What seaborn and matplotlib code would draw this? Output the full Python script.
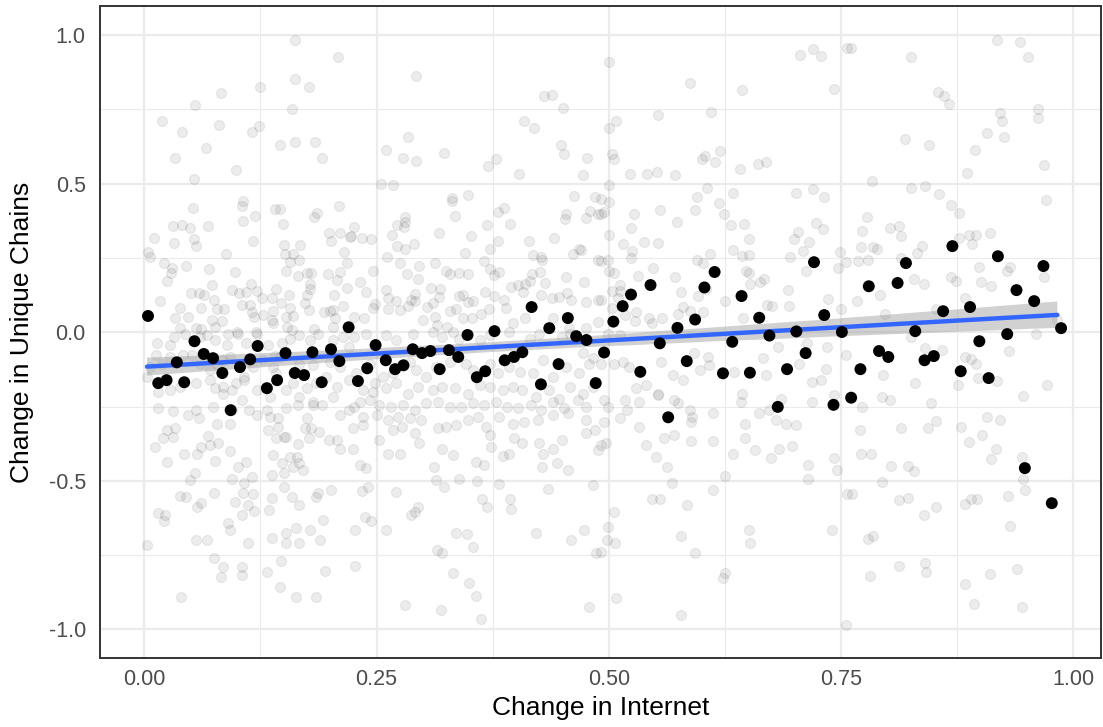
import numpy as np
import pandas as pd
import matplotlib
matplotlib.use("Agg")
import matplotlib.pyplot as plt
import seaborn as sns

# Binned means of change in unique chains along change in internet
bin_x = [0.004, 0.015, 0.024, 0.035, 0.043, 0.054, 0.064, 0.074, 0.084, 0.093,
         0.103, 0.114, 0.122, 0.132, 0.143, 0.152, 0.162, 0.172, 0.181, 0.191,
         0.201, 0.210, 0.220, 0.230, 0.240, 0.249, 0.260, 0.270, 0.279, 0.289,
         0.299, 0.308, 0.318, 0.328, 0.338, 0.348, 0.358, 0.367, 0.377, 0.388,
         0.398, 0.407, 0.417, 0.427, 0.436, 0.446, 0.456, 0.465, 0.476, 0.486,
         0.495, 0.505, 0.515, 0.524, 0.534, 0.545, 0.555, 0.564, 0.574, 0.584,
         0.593, 0.603, 0.614, 0.623, 0.633, 0.643, 0.652, 0.662, 0.673, 0.682,
         0.692, 0.702, 0.712, 0.721, 0.732, 0.742, 0.751, 0.761, 0.771, 0.780,
         0.791, 0.801, 0.811, 0.820, 0.830, 0.840, 0.850, 0.860, 0.870, 0.879,
         0.889, 0.899, 0.909, 0.919, 0.929, 0.939, 0.948, 0.958, 0.968, 0.977,
         0.987]
bin_y = [0.055, -0.171, -0.161, -0.101, -0.168, -0.030, -0.073, -0.087, -0.137, -0.262,
         -0.117, -0.091, -0.046, -0.188, -0.161, -0.070, -0.137, -0.144, -0.067, -0.168,
         -0.057, -0.097, 0.017, -0.164, -0.121, -0.043, -0.094, -0.124, -0.111, -0.057,
         -0.070, -0.063, -0.124, -0.060, -0.083, -0.009, -0.151, -0.131, 0.004, -0.094,
         -0.083, -0.067, 0.085, -0.175, 0.014, -0.107, 0.048, -0.013, -0.026, -0.171,
         -0.068, 0.036, 0.088, 0.127, -0.133, 0.159, -0.037, -0.286, 0.015, -0.097,
         0.043, 0.151, 0.203, -0.138, -0.032, 0.122, -0.136, 0.049, -0.011, -0.251,
         -0.124, 0.003, -0.070, 0.236, 0.058, -0.244, 0.001, -0.220, -0.124, 0.155,
         -0.063, -0.083, 0.166, 0.233, 0.004, -0.094, -0.080, 0.071, 0.290, -0.131,
         0.085, -0.030, -0.154, 0.256, -0.006, 0.142, -0.457, 0.105, 0.223, -0.575,
         0.014]

# Individual observations, grouped by region of the plane
cloud_left_upper = [
    (0.162, 0.985), (0.209, 0.927), (0.162, 0.852), (0.177, 0.826), (0.125, 0.824),
    (0.083, 0.804), (0.055, 0.766), (0.159, 0.753), (0.019, 0.711), (0.041, 0.673),
    (0.080, 0.699), (0.116, 0.675), (0.123, 0.693), (0.066, 0.619), (0.033, 0.588),
    (0.146, 0.631), (0.162, 0.639), (0.184, 0.639), (0.191, 0.588), (0.099, 0.547),
    (0.053, 0.516), (0.106, 0.442), (0.105, 0.424), (0.052, 0.420), (0.141, 0.415),
    (0.146, 0.415), (0.119, 0.391), (0.106, 0.376), (0.186, 0.403), (0.183, 0.388),
    (0.210, 0.426), (0.031, 0.357), (0.041, 0.361), (0.049, 0.352), (0.069, 0.357),
    (0.149, 0.363), (0.010, 0.316), (0.032, 0.299), (0.053, 0.314), (0.056, 0.290),
    (0.117, 0.308), (0.199, 0.333), (0.211, 0.335), (0.201, 0.308), (0.221, 0.321),
    (0.004, 0.271), (0.006, 0.253), (0.088, 0.265), (0.150, 0.293), (0.152, 0.265),
    (0.168, 0.293), (0.160, 0.265), (0.157, 0.237), (0.167, 0.242), (0.215, 0.271),
    (0.021, 0.232), (0.030, 0.216), (0.029, 0.198), (0.045, 0.223), (0.070, 0.214),
    (0.098, 0.204), (0.153, 0.207), (0.175, 0.198), (0.180, 0.198), (0.166, 0.190),
    (0.198, 0.195), (0.211, 0.204), (0.208, 0.177), (0.218, 0.232), (0.024, 0.172),
    (0.073, 0.159), (0.115, 0.163), (0.121, 0.140), (0.142, 0.145), (0.178, 0.164),
    (0.178, 0.145), (0.175, 0.125), (0.204, 0.125), (0.218, 0.148), (0.050, 0.133),
    (0.059, 0.133), (0.064, 0.125), (0.094, 0.144), (0.102, 0.131), (0.110, 0.136),
    (0.127, 0.114), (0.137, 0.116), (0.156, 0.127), (0.017, 0.105), (0.075, 0.108),
    (0.038, 0.083), (0.061, 0.083), (0.078, 0.077), (0.086, 0.078), (0.105, 0.092),
    (0.114, 0.092), (0.116, 0.067), (0.147, 0.097), (0.157, 0.083), (0.173, 0.097),
    (0.177, 0.075), (0.193, 0.069), (0.203, 0.075), (0.214, 0.088), (0.033, 0.049),
    (0.047, 0.051), (0.073, 0.041), (0.084, 0.038), (0.118, 0.052), (0.128, 0.058),
    (0.139, 0.071), (0.137, 0.041), (0.153, 0.052), (0.160, 0.055), (0.205, 0.049),
    (0.200, 0.071), (0.038, 0.013), (0.056, 0.015), (0.061, 0.010), (0.076, 0.019),
    (0.100, -0.000), (0.120, 0.002), (0.139, 0.030), (0.154, 0.019), (0.159, 0.007),
    (0.183, 0.010), (0.203, 0.019),
]
cloud_midleft_upper = [
    (0.292, 0.862), (0.430, 0.796), (0.439, 0.798), (0.451, 0.754), (0.409, 0.712),
    (0.420, 0.686), (0.284, 0.657), (0.260, 0.614), (0.279, 0.585), (0.293, 0.577),
    (0.323, 0.602), (0.449, 0.632), (0.452, 0.600), (0.477, 0.585), (0.370, 0.560),
    (0.379, 0.582), (0.403, 0.532), (0.472, 0.531), (0.255, 0.500), (0.268, 0.496),
    (0.331, 0.453), (0.331, 0.441), (0.349, 0.461), (0.463, 0.459), (0.485, 0.454),
    (0.387, 0.420), (0.381, 0.405), (0.335, 0.391), (0.454, 0.398), (0.453, 0.381),
    (0.475, 0.385), (0.480, 0.407), (0.488, 0.397), (0.226, 0.353), (0.223, 0.323),
    (0.234, 0.316), (0.244, 0.313), (0.267, 0.327), (0.272, 0.361), (0.281, 0.387),
    (0.281, 0.370), (0.280, 0.355), (0.272, 0.291), (0.281, 0.279), (0.290, 0.296),
    (0.317, 0.335), (0.352, 0.324), (0.369, 0.362), (0.394, 0.364), (0.381, 0.307),
    (0.372, 0.281), (0.345, 0.268), (0.414, 0.308), (0.441, 0.318), (0.462, 0.262),
    (0.468, 0.281), (0.470, 0.278), (0.419, 0.260), (0.428, 0.245), (0.427, 0.252),
    (0.261, 0.252), (0.275, 0.232), (0.296, 0.223), (0.313, 0.232), (0.246, 0.206),
    (0.283, 0.195), (0.295, 0.180), (0.325, 0.207), (0.329, 0.195), (0.339, 0.198),
    (0.349, 0.195), (0.366, 0.240), (0.372, 0.212), (0.382, 0.204), (0.376, 0.193),
    (0.417, 0.195), (0.426, 0.202), (0.431, 0.167), (0.454, 0.185), (0.473, 0.170),
    (0.488, 0.243), (0.232, 0.171), (0.239, 0.136), (0.260, 0.142), (0.262, 0.114),
    (0.271, 0.106), (0.291, 0.130), (0.287, 0.108), (0.309, 0.148), (0.318, 0.145),
    (0.317, 0.120), (0.311, 0.099), (0.304, 0.086), (0.329, 0.071), (0.343, 0.125),
    (0.339, 0.122), (0.354, 0.106), (0.348, 0.103), (0.367, 0.134), (0.377, 0.123),
    (0.387, 0.108), (0.395, 0.152), (0.402, 0.159), (0.410, 0.161), (0.415, 0.172),
    (0.408, 0.134), (0.427, 0.127), (0.439, 0.117), (0.446, 0.119), (0.455, 0.131),
    (0.459, 0.108), (0.475, 0.103), (0.488, 0.108), (0.248, 0.095), (0.246, 0.083),
    (0.262, 0.080), (0.275, 0.075), (0.284, 0.088), (0.291, 0.106), (0.300, 0.041),
    (0.313, 0.052), (0.315, 0.024), (0.326, 0.018), (0.336, 0.078), (0.343, 0.047),
    (0.353, 0.049), (0.363, 0.060), (0.371, 0.078), (0.389, 0.083), (0.397, 0.030),
    (0.410, 0.047), (0.440, 0.049), (0.457, 0.013), (0.476, 0.015), (0.488, 0.036),
    (0.236, 0.049), (0.226, 0.052),
]
cloud_midright_upper = [
    (0.500, 0.908), (0.588, 0.839), (0.644, 0.815), (0.743, 0.819), (0.706, 0.933),
    (0.720, 0.955), (0.728, 0.931), (0.757, 0.957), (0.553, 0.731), (0.610, 0.742),
    (0.508, 0.711), (0.500, 0.686), (0.503, 0.600), (0.506, 0.583), (0.523, 0.533),
    (0.541, 0.533), (0.552, 0.539), (0.571, 0.531), (0.600, 0.583), (0.604, 0.594),
    (0.614, 0.574), (0.620, 0.611), (0.641, 0.551), (0.661, 0.565), (0.669, 0.574),
    (0.500, 0.495), (0.492, 0.450), (0.500, 0.439), (0.495, 0.406), (0.492, 0.397),
    (0.527, 0.398), (0.555, 0.411), (0.595, 0.457), (0.606, 0.484), (0.593, 0.412),
    (0.619, 0.435), (0.624, 0.397), (0.634, 0.470), (0.702, 0.470), (0.720, 0.481),
    (0.732, 0.456), (0.573, 0.372), (0.524, 0.350), (0.500, 0.327), (0.515, 0.298),
    (0.538, 0.304), (0.553, 0.301), (0.525, 0.274), (0.524, 0.249), (0.632, 0.361),
    (0.646, 0.364), (0.651, 0.313), (0.634, 0.278), (0.643, 0.258), (0.651, 0.260),
    (0.700, 0.313), (0.704, 0.338), (0.716, 0.305), (0.709, 0.274), (0.695, 0.253),
    (0.723, 0.367), (0.731, 0.347), (0.749, 0.269), (0.755, 0.237), (0.747, 0.215),
    (0.595, 0.245), (0.601, 0.234), (0.609, 0.264), (0.492, 0.240), (0.499, 0.243),
    (0.506, 0.200), (0.500, 0.207), (0.531, 0.188), (0.548, 0.215), (0.571, 0.186),
    (0.578, 0.136), (0.596, 0.122), (0.605, 0.146), (0.625, 0.107), (0.648, 0.206),
    (0.651, 0.200), (0.652, 0.163), (0.663, 0.168), (0.667, 0.179), (0.693, 0.142),
    (0.712, 0.208), (0.736, 0.112), (0.750, 0.078), (0.512, 0.159), (0.503, 0.139),
    (0.512, 0.139), (0.510, 0.114), (0.504, 0.082), (0.529, 0.069), (0.517, 0.058),
    (0.528, 0.038), (0.543, 0.047), (0.547, 0.032), (0.557, 0.047), (0.580, 0.086),
    (0.587, 0.073), (0.575, 0.060), (0.602, 0.069), (0.645, 0.047), (0.670, 0.093),
    (0.676, 0.088), (0.694, 0.088), (0.492, 0.108),
]
cloud_right_upper = [
    (0.761, 0.957), (0.825, 0.925), (0.918, 0.983), (0.943, 0.978), (0.951, 0.925),
    (0.854, 0.809), (0.861, 0.796), (0.866, 0.770), (0.921, 0.739), (0.923, 0.711),
    (0.962, 0.752), (0.962, 0.722), (0.907, 0.670), (0.926, 0.658), (0.894, 0.613),
    (0.819, 0.649), (0.845, 0.632), (0.886, 0.537), (0.969, 0.563), (0.783, 0.509),
    (0.825, 0.485), (0.840, 0.491), (0.856, 0.465), (0.868, 0.428), (0.877, 0.402),
    (0.971, 0.445), (0.778, 0.389), (0.773, 0.342), (0.803, 0.350), (0.813, 0.358),
    (0.815, 0.325), (0.772, 0.288), (0.785, 0.288), (0.789, 0.279), (0.779, 0.245),
    (0.837, 0.291), (0.832, 0.268), (0.877, 0.318), (0.888, 0.327), (0.895, 0.327),
    (0.891, 0.296), (0.910, 0.333), (0.815, 0.249), (0.829, 0.181), (0.839, 0.164),
    (0.869, 0.187), (0.874, 0.172), (0.899, 0.219), (0.901, 0.170), (0.912, 0.156),
    (0.929, 0.207), (0.932, 0.221), (0.969, 0.187), (0.767, 0.105), (0.792, 0.124),
    (0.797, 0.060), (0.852, 0.080), (0.884, 0.117), (0.768, 0.241), (0.983, 0.040),
]
cloud_left_lower = [
    (0.014, -0.037), (0.028, -0.043), (0.032, -0.017), (0.044, -0.004), (0.060, -0.015),
    (0.067, -0.009), (0.076, -0.026), (0.089, -0.043), (0.090, -0.004), (0.101, -0.006),
    (0.110, -0.035), (0.121, -0.004), (0.133, -0.043), (0.141, -0.080), (0.148, -0.037),
    (0.157, -0.021), (0.167, -0.009), (0.178, -0.026), (0.187, -0.004), (0.203, -0.026),
    (0.214, -0.015), (0.220, -0.049), (0.006, -0.116), (0.013, -0.077), (0.019, -0.105),
    (0.028, -0.082), (0.042, -0.077), (0.051, -0.077), (0.060, -0.105), (0.071, -0.127),
    (0.078, -0.105), (0.085, -0.094), (0.092, -0.082), (0.107, -0.150), (0.117, -0.116),
    (0.128, -0.094), (0.139, -0.116), (0.146, -0.082), (0.167, -0.105), (0.182, -0.110),
    (0.200, -0.099), (0.211, -0.116), (0.003, -0.150), (0.015, -0.200), (0.028, -0.194),
    (0.038, -0.183), (0.056, -0.172), (0.071, -0.161), (0.076, -0.189), (0.085, -0.183),
    (0.094, -0.194), (0.099, -0.172), (0.107, -0.161), (0.121, -0.194), (0.135, -0.217),
    (0.142, -0.138), (0.153, -0.194), (0.160, -0.172), (0.175, -0.189), (0.185, -0.172),
    (0.196, -0.150), (0.207, -0.183), (0.220, -0.161), (0.167, -0.217), (0.182, -0.234),
    (0.203, -0.217), (0.015, -0.256), (0.031, -0.264), (0.047, -0.279), (0.056, -0.262),
    (0.059, -0.290), (0.074, -0.251), (0.078, -0.307), (0.085, -0.206), (0.092, -0.307),
    (0.094, -0.262), (0.105, -0.228), (0.113, -0.262), (0.121, -0.279), (0.132, -0.262),
    (0.135, -0.284), (0.144, -0.290), (0.153, -0.256), (0.166, -0.245), (0.175, -0.290),
    (0.182, -0.245), (0.191, -0.245), (0.211, -0.279), (0.220, -0.262), (0.024, -0.329),
    (0.031, -0.352), (0.020, -0.357), (0.012, -0.385), (0.033, -0.321), (0.043, -0.411),
    (0.057, -0.408), (0.061, -0.385), (0.069, -0.349), (0.071, -0.380), (0.079, -0.374),
    (0.092, -0.400), (0.076, -0.433), (0.024, -0.436), (0.049, -0.497), (0.055, -0.475),
    (0.094, -0.492), (0.101, -0.452), (0.110, -0.436), (0.116, -0.486), (0.107, -0.508),
    (0.133, -0.329), (0.144, -0.318), (0.150, -0.352), (0.142, -0.357), (0.153, -0.352),
    (0.166, -0.377), (0.180, -0.321), (0.173, -0.323), (0.188, -0.335), (0.199, -0.361),
    (0.208, -0.363), (0.211, -0.391), (0.177, -0.357), (0.139, -0.413), (0.148, -0.441),
    (0.157, -0.419), (0.164, -0.419), (0.160, -0.452), (0.167, -0.441), (0.171, -0.464),
    (0.150, -0.475), (0.150, -0.520), (0.137, -0.480), (0.159, -0.553), (0.167, -0.581),
    (0.185, -0.553), (0.187, -0.542), (0.201, -0.529), (0.038, -0.550), (0.045, -0.553),
    (0.057, -0.587), (0.061, -0.576), (0.075, -0.540), (0.098, -0.572), (0.106, -0.542),
    (0.117, -0.544), (0.112, -0.581), (0.118, -0.602), (0.134, -0.598), (0.138, -0.559),
    (0.105, -0.615), (0.090, -0.643), (0.092, -0.665), (0.015, -0.607), (0.022, -0.615),
    (0.021, -0.635), (0.003, -0.716), (0.056, -0.699), (0.067, -0.699), (0.112, -0.710),
    (0.138, -0.691), (0.153, -0.677), (0.163, -0.658), (0.153, -0.710), (0.167, -0.710),
    (0.178, -0.665), (0.189, -0.699), (0.192, -0.630), (0.075, -0.761), (0.085, -0.789),
    (0.083, -0.823), (0.105, -0.789), (0.105, -0.817), (0.132, -0.808), (0.147, -0.769),
    (0.195, -0.802), (0.040, -0.890), (0.146, -0.858), (0.163, -0.890), (0.185, -0.890),
]
cloud_midleft_lower = [
    (0.226, -0.015), (0.239, -0.004), (0.260, -0.009), (0.271, -0.026), (0.289, -0.004),
    (0.311, 0.002), (0.320, -0.015), (0.332, 0.002), (0.339, -0.021), (0.361, -0.026),
    (0.372, -0.009), (0.393, 0.002), (0.415, -0.021), (0.425, -0.004), (0.450, -0.015),
    (0.458, -0.004), (0.472, -0.071), (0.483, -0.088), (0.228, -0.138), (0.243, -0.105),
    (0.248, -0.172), (0.257, -0.150), (0.268, -0.138), (0.286, -0.099), (0.293, -0.127),
    (0.303, -0.150), (0.314, -0.116), (0.329, -0.099), (0.346, -0.105), (0.354, -0.127),
    (0.372, -0.105), (0.381, -0.138), (0.393, -0.116), (0.404, -0.133), (0.418, -0.138),
    (0.429, -0.094), (0.440, -0.150), (0.454, -0.116), (0.468, -0.138), (0.479, -0.105),
    (0.235, -0.194), (0.246, -0.200), (0.260, -0.189), (0.271, -0.172), (0.284, -0.206),
    (0.295, -0.183), (0.311, -0.194), (0.321, -0.183), (0.334, -0.189), (0.348, -0.206),
    (0.361, -0.178), (0.372, -0.183), (0.386, -0.194), (0.397, -0.183), (0.407, -0.194),
    (0.422, -0.217), (0.436, -0.194), (0.447, -0.223), (0.458, -0.183), (0.472, -0.206),
    (0.483, -0.183), (0.226, -0.251), (0.232, -0.234), (0.243, -0.228), (0.253, -0.245),
    (0.266, -0.251), (0.278, -0.245), (0.291, -0.262), (0.303, -0.239), (0.316, -0.234),
    (0.329, -0.251), (0.341, -0.251), (0.354, -0.239), (0.366, -0.245), (0.379, -0.234),
    (0.390, -0.251), (0.402, -0.256), (0.416, -0.245), (0.427, -0.262), (0.440, -0.234),
    (0.452, -0.256), (0.467, -0.228), (0.476, -0.251), (0.235, -0.284), (0.250, -0.279),
    (0.262, -0.295), (0.273, -0.284), (0.286, -0.290), (0.298, -0.295), (0.316, -0.323),
    (0.325, -0.318), (0.336, -0.312), (0.348, -0.295), (0.359, -0.284), (0.368, -0.318),
    (0.382, -0.284), (0.397, -0.307), (0.409, -0.301), (0.424, -0.295), (0.440, -0.279),
    (0.456, -0.273), (0.476, -0.295), (0.225, -0.323), (0.235, -0.312), (0.253, -0.363),
    (0.268, -0.329), (0.277, -0.318), (0.291, -0.340), (0.296, -0.374), (0.320, -0.391),
    (0.332, -0.413), (0.357, -0.436), (0.366, -0.447), (0.372, -0.346), (0.373, -0.385),
    (0.386, -0.417), (0.393, -0.408), (0.398, -0.357), (0.407, -0.374), (0.425, -0.374),
    (0.429, -0.408), (0.440, -0.391), (0.444, -0.441), (0.450, -0.363), (0.456, -0.464),
    (0.428, -0.452), (0.476, -0.340), (0.485, -0.329), (0.488, -0.396), (0.225, -0.391),
    (0.232, -0.447), (0.239, -0.458), (0.262, -0.408), (0.275, -0.408), (0.312, -0.452),
    (0.314, -0.497), (0.323, -0.520), (0.339, -0.492), (0.358, -0.500), (0.382, -0.511),
    (0.394, -0.562), (0.395, -0.595), (0.364, -0.561), (0.369, -0.587), (0.435, -0.528),
    (0.483, -0.514), (0.241, -0.520), (0.234, -0.533), (0.271, -0.537), (0.238, -0.623),
    (0.244, -0.634), (0.287, -0.615), (0.291, -0.604), (0.295, -0.587), (0.227, -0.665),
    (0.260, -0.665), (0.336, -0.674), (0.347, -0.679), (0.354, -0.724), (0.315, -0.733),
    (0.320, -0.742), (0.422, -0.674), (0.459, -0.699), (0.473, -0.665), (0.486, -0.742),
    (0.227, -0.786), (0.332, -0.811), (0.350, -0.845), (0.357, -0.888), (0.281, -0.918),
    (0.319, -0.933), (0.362, -0.966), (0.479, -0.924),
]
cloud_midright_lower = [
    (0.499, -0.004), (0.512, -0.009), (0.492, -0.105), (0.506, -0.105), (0.515, -0.099),
    (0.522, -0.116), (0.529, -0.189), (0.540, -0.178), (0.553, -0.206), (0.556, -0.099),
    (0.569, -0.144), (0.580, -0.161), (0.592, -0.071), (0.598, -0.127), (0.607, -0.082),
    (0.608, -0.110), (0.635, -0.133), (0.644, -0.206), (0.642, -0.234), (0.666, -0.088),
    (0.669, -0.144), (0.682, -0.049), (0.705, -0.105), (0.714, -0.037), (0.719, -0.166),
    (0.728, -0.161), (0.734, -0.122), (0.735, -0.049), (0.743, -0.211), (0.755, -0.077),
    (0.495, -0.228), (0.499, -0.251), (0.517, -0.228), (0.520, -0.262), (0.533, -0.234),
    (0.553, -0.211), (0.570, -0.228), (0.575, -0.239), (0.587, -0.262), (0.590, -0.284),
    (0.612, -0.273), (0.662, -0.273), (0.673, -0.262), (0.685, -0.223), (0.680, -0.295),
    (0.691, -0.307), (0.702, -0.312), (0.719, -0.234), (0.495, -0.301), (0.512, -0.290),
    (0.533, -0.318), (0.540, -0.380), (0.551, -0.419), (0.560, -0.357), (0.570, -0.344),
    (0.589, -0.303), (0.589, -0.366), (0.612, -0.366), (0.634, -0.411), (0.647, -0.309),
    (0.647, -0.357), (0.658, -0.396), (0.675, -0.422), (0.683, -0.394), (0.697, -0.383),
    (0.715, -0.445), (0.715, -0.494), (0.743, -0.422), (0.746, -0.464), (0.492, -0.380),
    (0.497, -0.374), (0.563, -0.452), (0.568, -0.506), (0.612, -0.529), (0.625, -0.483),
    (0.547, -0.562), (0.555, -0.562), (0.584, -0.581), (0.506, -0.606), (0.499, -0.655),
    (0.498, -0.699), (0.507, -0.710), (0.578, -0.685), (0.593, -0.741), (0.651, -0.665),
    (0.652, -0.710), (0.740, -0.665), (0.756, -0.544), (0.625, -0.811), (0.623, -0.828),
    (0.508, -0.893), (0.578, -0.952), (0.755, -0.985), (0.492, -0.739),
]
cloud_right_lower = [
    (0.825, -0.015), (0.841, -0.052), (0.859, -0.060), (0.884, -0.082), (0.890, -0.091),
    (0.895, -0.105), (0.898, -0.153), (0.918, -0.163), (0.931, -0.062), (0.960, -0.006),
    (0.972, -0.178), (0.876, -0.176), (0.795, -0.142), (0.830, -0.172), (0.794, -0.217),
    (0.803, -0.228), (0.773, -0.253), (0.847, -0.237), (0.946, -0.215), (0.771, -0.329),
    (0.815, -0.323), (0.844, -0.323), (0.852, -0.299), (0.879, -0.318), (0.888, -0.368),
    (0.902, -0.347), (0.907, -0.284), (0.921, -0.295), (0.917, -0.394), (0.912, -0.427),
    (0.945, -0.419), (0.946, -0.495), (0.948, -0.530), (0.772, -0.411), (0.782, -0.408),
    (0.804, -0.449), (0.822, -0.450), (0.829, -0.466), (0.794, -0.505), (0.762, -0.545),
    (0.813, -0.565), (0.822, -0.557), (0.839, -0.615), (0.852, -0.587), (0.884, -0.578),
    (0.890, -0.562), (0.896, -0.560), (0.930, -0.550), (0.932, -0.653), (0.779, -0.696),
    (0.785, -0.685), (0.813, -0.785), (0.841, -0.776), (0.842, -0.807), (0.781, -0.820),
    (0.884, -0.847), (0.911, -0.815), (0.940, -0.798), (0.893, -0.913), (0.945, -0.926),
]

x_ticks = [0.0, 0.25, 0.5, 0.75, 1.0]
x_tick_labels = ["0.00", "0.25", "0.50", "0.75", "1.00"]
y_ticks = [-1.0, -0.5, 0.0, 0.5, 1.0]
y_tick_labels = ["-1.0", "-0.5", "0.0", "0.5", "1.0"]

sns.set_theme(style="white")
plt.rcParams["font.family"] = ["Liberation Sans", "DejaVu Sans"]

cloud = pd.DataFrame(
    cloud_left_upper + cloud_midleft_upper + cloud_midright_upper + cloud_right_upper
    + cloud_left_lower + cloud_midleft_lower + cloud_midright_lower + cloud_right_lower,
    columns=["internet", "chains"],
)
bins = pd.DataFrame({"internet": bin_x, "chains": bin_y})

fig = plt.figure(figsize=(11.03, 7.27), dpi=100)
ax = fig.add_axes([0.0904, 0.0945, 0.9078, 0.8972])

# raw observations
sns.scatterplot(data=cloud, x="internet", y="chains", ax=ax, s=52,
                color="black", alpha=0.075, edgecolor="black", linewidth=0.8,
                zorder=2, legend=False)

# linear fit with confidence band
n_before = len(ax.collections)
sns.regplot(data=cloud, x="internet", y="chains", ax=ax, scatter=False, ci=80,
            seed=7, color="#3366FF", line_kws={"lw": 3.2, "zorder": 4})
for coll in ax.collections[n_before:]:
    coll.set_facecolor("#999999")
    coll.set_alpha(0.45)
    coll.set_edgecolor("none")
    coll.set_zorder(3)

# binned means
sns.scatterplot(data=bins, x="internet", y="chains", ax=ax, s=74,
                color="black", edgecolor="none", zorder=5, legend=False)

ax.set_xlim(-0.048, 1.030)
ax.set_ylim(-1.097, 1.098)
ax.set_xticks(x_ticks)
ax.set_xticklabels(x_tick_labels)
ax.set_yticks(y_ticks)
ax.set_yticklabels(y_tick_labels)
ax.set_xticks([0.125, 0.375, 0.625, 0.875], minor=True)
ax.set_yticks([-0.75, -0.25, 0.25, 0.75], minor=True)

ax.set_axisbelow(True)
ax.grid(which="major", color="#EBEBEB", lw=1.6)
ax.grid(which="minor", color="#EBEBEB", lw=0.8)

for side in ["left", "right", "top", "bottom"]:
    ax.spines[side].set_visible(True)
    ax.spines[side].set_color("#333333")
    ax.spines[side].set_linewidth(1.4)

ax.tick_params(which="major", length=5, width=1.4, color="#333333",
               labelsize=15.5, labelcolor="#4D4D4D", direction="out")
ax.tick_params(axis="x", which="major", pad=2.5)
ax.tick_params(axis="y", which="major", pad=5)
ax.tick_params(which="minor", length=0)

ax.set_xlabel("Change in Internet", fontsize=19, color="black")
ax.set_ylabel("Change in Unique Chains", fontsize=19, color="black")
ax.xaxis.set_label_coords(0.5, -0.058)
ax.yaxis.set_label_coords(-0.066, 0.5)

fig.savefig("out.png", dpi=100)
